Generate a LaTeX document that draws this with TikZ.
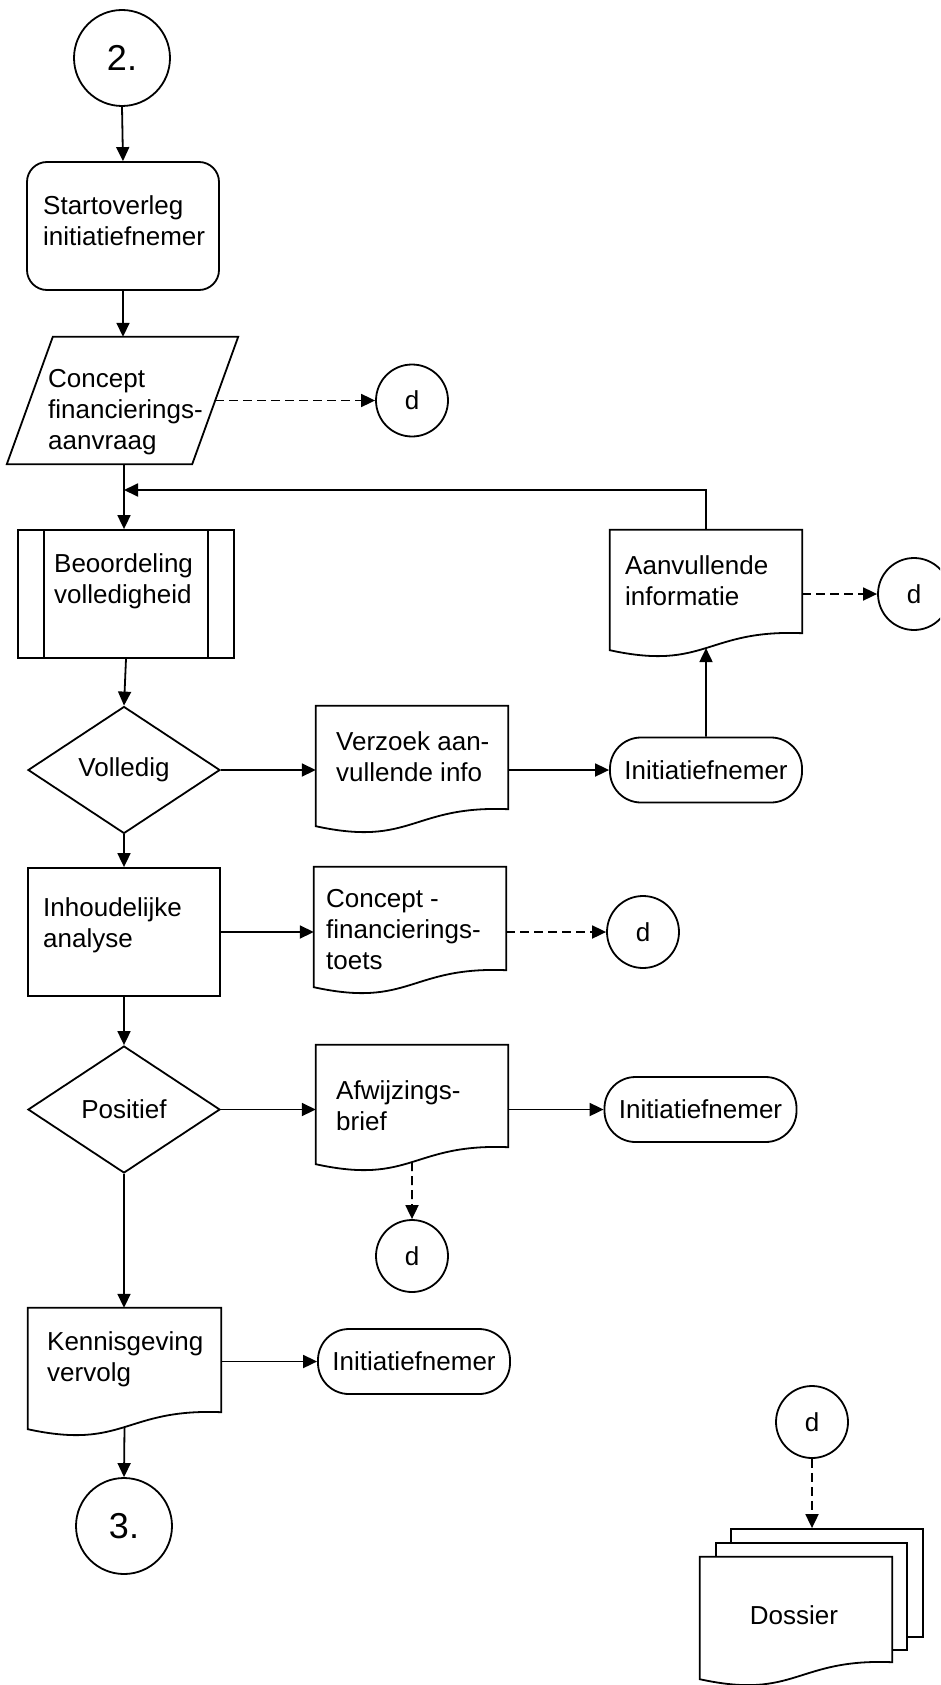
\documentclass[tikz,border=0pt]{standalone}
\usepackage{fontspec}
\setmainfont{Liberation Sans}
\usetikzlibrary{shapes.geometric,arrows.meta,calc}
\newcommand\docshape[1]{%
  \draw[ln,fill=white] (#1.north west) -- (#1.north east) -- (#1.south east)
    .. controls ($(#1.south)+(0,-4)$) and ($(#1.south)+(0,38)$) .. ($(#1.south west)+(0,17)$)
    coordinate[pos=0.5] (#1-wave) -- cycle;}
\begin{document}
\begin{tikzpicture}[x=1pt,y=-1pt,
  every node/.style={font=\fontsize{26}{31}\selectfont},
  ln/.style={line width=1.8pt},
  arr/.style={ln,-{Triangle[length=14pt,width=13pt]}},
  darr/.style={arr,dash pattern=on 9pt off 5pt},
  bigc/.style={circle,draw,ln,minimum size=96pt,inner sep=0pt,font=\fontsize{36}{40}\selectfont},
  dc/.style={circle,draw,ln,minimum size=72pt,inner sep=0pt},
  term/.style={rectangle,draw,ln,rounded corners=31pt,minimum width=192pt,minimum height=65pt,inner sep=0pt},
  frame/.style={rectangle,inner sep=0pt,minimum width=192pt},
  box/.style={rectangle,draw,ln,inner sep=0pt,minimum width=192pt,minimum height=128pt},
  txt/.style={align=left,inner sep=0pt,anchor=west},
  dia/.style={diamond,draw,ln,minimum width=192pt,minimum height=127pt,inner sep=0pt}
]
\useasboundingbox (0,0) rectangle (940,1685);
\clip (0,0) rectangle (940,1685);

% top
\node[bigc] (c2) at (122,58) {2.};
\node[box,rounded corners=20pt] (start) at (123,226) {};
\node[txt] (start-t) at (43,221) {Startoverleg\\initiatiefnemer};
\draw[arr] (c2.south) -- (start.north);

% parallelogram
\node[frame,minimum width=231pt,minimum height=127pt] (para) at (122.5,400.5) {};
\draw[ln] ($(para.north west)+(46,0)$) -- (para.north east) -- ($(para.south east)+(-46,0)$) -- (para.south west) -- cycle;
\coordinate (para-r) at ($(para.east)+(-23,0)$);
\node[txt] (para-t) at (48,412) {Concept\\financierings-\\aanvraag};
\node[dc] (d1) at (412,400.5) {d};
\draw[arr] (start.south) -- (start.south |- para.north);
\draw[darr] (para-r) -- (d1.west);

% Beoordeling
\node[box,minimum width=216pt] (beo) at (126,594) {};
\draw[ln] ($(beo.north west)+(27,0)$) -- ($(beo.south west)+(27,0)$);
\draw[ln] ($(beo.north east)+(-27,0)$) -- ($(beo.south east)+(-27,0)$);
\node[txt] (beo-t) at (54,581) {Beoordeling\\volledigheid};
\coordinate (join) at (124,490);
\draw[arr] (para.south -| join) -- (beo.north -| join);

% Aanvullende informatie
\node[frame,minimum height=103pt] (aanv) at (706,581.5) {};
\docshape{aanv}
\node[txt] (aanv-t) at (625,581) {Aanvullende\\informatie};
\draw[arr] (aanv.north) |- (join);
\node[dc] (d2) at (914,594) {d};
\draw[darr] (d2.west -| aanv.east) -- (d2.west);

% Volledig
\node[dia] (vol) at (124,770) {Volledig};
\draw[arr] (beo.south) -- (vol.north);
\node[frame,minimum height=103pt] (verz) at (412,757.5) {};
\docshape{verz}
\node[txt] (verz-t) at (336,757) {Verzoek aan-\\vullende info};
\draw[arr] (vol.east) -- (vol.east -| verz.west);
\node[term] (ini1) at (706,770) {Initiatiefnemer};
\draw[arr] (ini1.west -| verz.east) -- (ini1.west);
\draw[arr] (ini1.north) -- (aanv-wave);

% Inhoudelijke analyse
\node[box] (inh) at (124,932) {};
\node[txt] (inh-t) at (43,925) {Inhoudelijke\\analyse};
\draw[arr] (vol.south) -- (inh.north);
\node[frame,minimum height=103pt] (conc) at (410,918.5) {};
\docshape{conc}
\node[txt] (conc-t) at (326,930) {Concept -\\financierings-\\toets};
\draw[arr] (inh.east) -- (inh.east -| conc.west);
\node[dc] (d3) at (643,932) {d};
\draw[darr] (d3.west -| conc.east) -- (d3.west);

% Positief
\node[dia] (pos) at (124,1109.5) {Positief};
\draw[arr] (inh.south) -- (pos.north);
\node[frame,minimum height=102pt] (afw) at (412,1096) {};
\docshape{afw}
\node[txt] (afw-t) at (336,1106) {Afwijzings-\\brief};
\draw[arr] (pos.east) -- (pos.east -| afw.west);
\node[term] (ini2) at (700.5,1109.5) {Initiatiefnemer};
\draw[arr] (ini2.west -| afw.east) -- (ini2.west);
\node[dc] (d4) at (412,1256) {d};
\draw[darr] (afw-wave) -- (d4.north);

% Kennisgeving
\node[frame,minimum width=193pt,minimum height=104pt] (kenn) at (124.5,1360) {};
\docshape{kenn}
\node[txt] (kenn-t) at (47,1359) {Kennisgeving\\vervolg};
\draw[arr] (pos.south) -- (pos.south |- kenn.north);
\node[term] (ini3) at (414,1361.5) {Initiatiefnemer};
\draw[arr] (ini3.west -| kenn.east) -- (ini3.west);
\node[bigc] (c3) at (124,1526) {3.};
\draw[arr] (kenn-wave) -- (c3.north);

% Dossier
\node[dc] (d5) at (812,1422) {d};
\node[rectangle,draw,ln,fill=white,minimum width=192pt,minimum height=108pt] (dos-back) at (827,1583) {};
\node[rectangle,draw,ln,fill=white,minimum width=191pt,minimum height=107pt] (dos-mid) at (811.5,1596.5) {};
\node[frame,minimum height=105pt] (dos) at (796,1609.5) {};
\docshape{dos}
\node (dos-t) at (794,1615) {Dossier};
\draw[darr] (d5.south) -- (d5.south |- dos-back.north);
\end{tikzpicture}
\end{document}
